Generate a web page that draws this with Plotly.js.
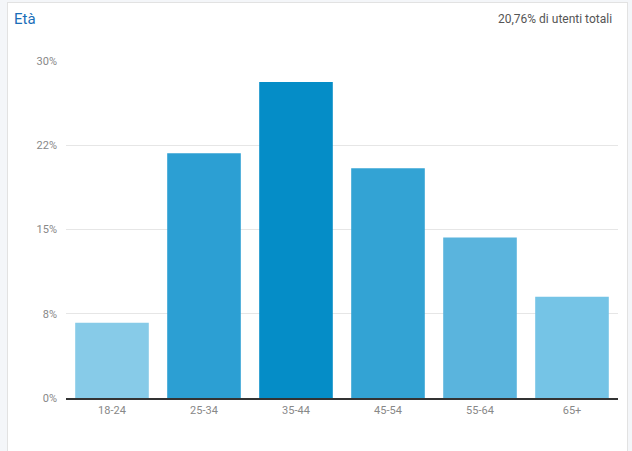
<!DOCTYPE html>
<html>
<head>
<meta charset="utf-8">
<script src="https://cdn.plot.ly/plotly-3.0.1.min.js"></script>
<style>
  html, body { margin: 0; padding: 0; width: 632px; height: 451px; overflow: hidden; background: #f4f6f9; }
  #card { position: absolute; left: 7px; top: 2px; width: 621px; height: 470px; background: #fff; border: 1px solid #e2e2e2; box-sizing: border-box; }
  #chart { position: absolute; left: 0; top: 0; width: 632px; height: 451px; }
</style>
</head>
<body>
<div id="card"></div>
<div id="chart"></div>
<script>
const categories = ['18-24', '25-34', '35-44', '45-54', '55-64', '65+'];
const values = [6.70, 21.79, 28.13, 20.45, 14.29, 9.02];
const barColors = ['#87CBE8', '#2C9FD3', '#058DC7', '#33A3D4', '#5AB4DD', '#75C4E6'];
const yTickVals = [0, 7.5, 15, 22.5, 30];
const yTickText = ['0%', '8%', '15%', '22%', '30%'];
const chartTitle = 'Età';
const subtitle = '20,76% di utenti totali';

const trace = {
  type: 'bar',
  x: categories,
  y: values,
  marker: { color: barColors },
  hoverinfo: 'x+y'
};

const layout = {
  width: 632,
  height: 451,
  margin: { l: 66, r: 14, t: 61, b: 53 },
  paper_bgcolor: 'rgba(0,0,0,0)',
  plot_bgcolor: 'rgba(0,0,0,0)',
  font: { family: 'Roboto, Arial, sans-serif', size: 11, color: '#888' },
  bargap: 0.2,
  showlegend: false,
  xaxis: {
    type: 'category',
    showgrid: false,
    showline: true,
    linecolor: '#333',
    linewidth: 1.5,
    ticks: '',
    tickfont: { family: 'Roboto, Arial, sans-serif', size: 11, color: '#888' },
    ticklabelstandoff: 1
  },
  yaxis: {
    range: [0, 30],
    tickvals: yTickVals,
    ticktext: yTickText,
    showgrid: true,
    gridcolor: '#e6e6e6',
    gridwidth: 1,
    zeroline: false,
    showline: false,
    ticks: '',
    tickfont: { family: 'Roboto, Arial, sans-serif', size: 11, color: '#888' },
    ticklabelstandoff: 8
  },
  annotations: [
    {
      text: chartTitle,
      xref: 'paper', yref: 'paper',
      x: -0.097, y: 1.125,
      xanchor: 'left', yanchor: 'middle',
      showarrow: false,
      font: { family: 'Roboto, Arial, sans-serif', size: 15, color: '#1A6EB8' }
    },
    {
      text: subtitle,
      xref: 'paper', yref: 'paper',
      x: 0.992, y: 1.125,
      xanchor: 'right', yanchor: 'middle',
      showarrow: false,
      font: { family: 'Roboto, Arial, sans-serif', size: 12, color: '#555' }
    }
  ]
};

Plotly.newPlot('chart', [trace], layout, { displayModeBar: false, staticPlot: true });
</script>
</body>
</html>
